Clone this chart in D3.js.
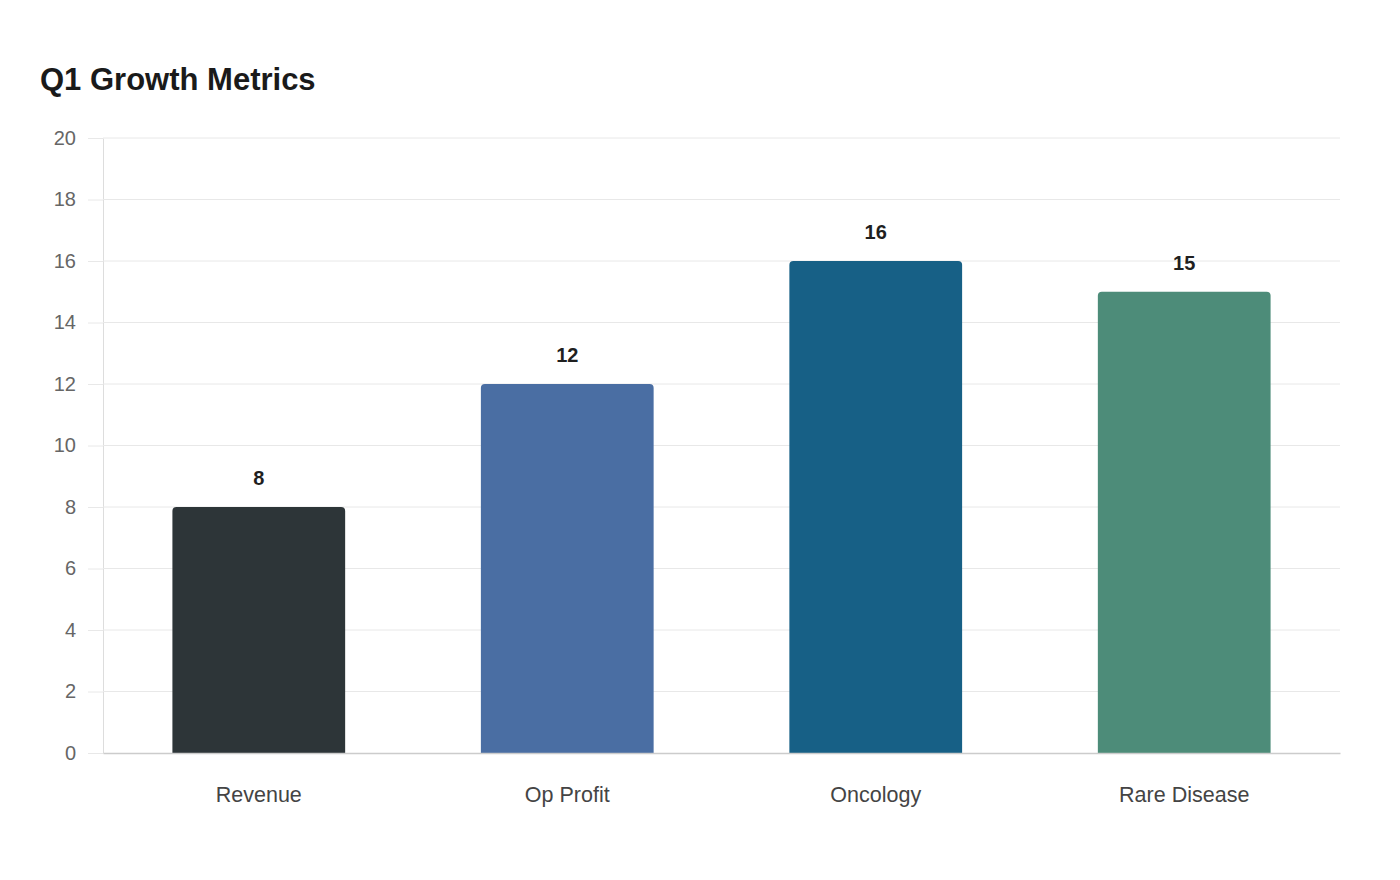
<!DOCTYPE html>
<html>
<head>
<meta charset="utf-8">
<script src="https://cdn.jsdelivr.net/npm/d3@7"></script>
<style>
  body { margin: 0; background: #fff; }
  svg { display: block; font-family: "Liberation Sans", Arial, sans-serif; }
</style>
</head>
<body>
<div id="chart"></div>
<script>
const categories = ["Revenue", "Op Profit", "Oncology", "Rare Disease"];
const values = [8, 12, 16, 15];
const barColors = ["#2d3538", "#4a6ea3", "#176086", "#4d8c79"];
const yTicks = [0, 2, 4, 6, 8, 10, 12, 14, 16, 18, 20];

const width = 1400, height = 880;
const margin = { top: 138, right: 60, bottom: 127, left: 103 };
const innerW = width - margin.left - margin.right;
const innerH = height - margin.top - margin.bottom;

const svg = d3.select("#chart").append("svg")
  .attr("width", width)
  .attr("height", height);

svg.append("text")
  .attr("x", 40)
  .attr("y", 90)
  .attr("font-size", 31)
  .attr("font-weight", "bold")
  .attr("fill", "#1a1a1a")
  .text("Q1 Growth Metrics");

const g = svg.append("g").attr("transform", `translate(${margin.left},${margin.top})`);

const x = d3.scaleBand().domain(categories).range([0, innerW]).paddingInner(0.44).paddingOuter(0.225);
const y = d3.scaleLinear().domain([0, 20]).range([innerH, 0]);

// grid + y ticks
const yAxis = g.append("g")
  .call(d3.axisLeft(y).tickValues(yTicks).tickSize(15).tickPadding(12).tickSizeOuter(0));
yAxis.select(".domain").attr("stroke", "#dddddd");
yAxis.selectAll(".tick line").attr("stroke", "#e8e8e8");
yAxis.selectAll(".tick text").attr("fill", "#666").attr("font-size", 20).attr("font-family", "Liberation Sans, Arial, sans-serif");

g.append("g").selectAll("line")
  .data(yTicks.filter(d => d > 0))
  .join("line")
  .attr("x1", 0).attr("x2", innerW)
  .attr("y1", d => y(d)).attr("y2", d => y(d))
  .attr("stroke", "#e8e8e8");

// bars with rounded top corners
const r = 4;
g.append("g").selectAll("path")
  .data(values)
  .join("path")
  .attr("fill", (d, i) => barColors[i])
  .attr("d", (d, i) => {
    const x0 = x(categories[i]), w = x.bandwidth();
    const top = y(d), bot = y(0);
    return `M${x0},${bot}V${top + r}Q${x0},${top} ${x0 + r},${top}H${x0 + w - r}Q${x0 + w},${top} ${x0 + w},${top + r}V${bot}Z`;
  });

// value labels
g.append("g").selectAll("text")
  .data(values)
  .join("text")
  .attr("x", (d, i) => x(categories[i]) + x.bandwidth() / 2)
  .attr("y", d => y(d) - 22)
  .attr("text-anchor", "middle")
  .attr("font-size", 20)
  .attr("font-weight", "bold")
  .attr("fill", "#1f1f1f")
  .text(d => d);

// x axis
const xAxis = g.append("g")
  .attr("transform", `translate(0,${innerH})`)
  .call(d3.axisBottom(x).tickSize(0).tickPadding(34));
xAxis.select(".domain").attr("stroke", "#cccccc").attr("stroke-width", 1.5);
xAxis.selectAll(".tick text").attr("fill", "#444").attr("font-size", 21.5).attr("font-family", "Liberation Sans, Arial, sans-serif");
</script>
</body>
</html>
